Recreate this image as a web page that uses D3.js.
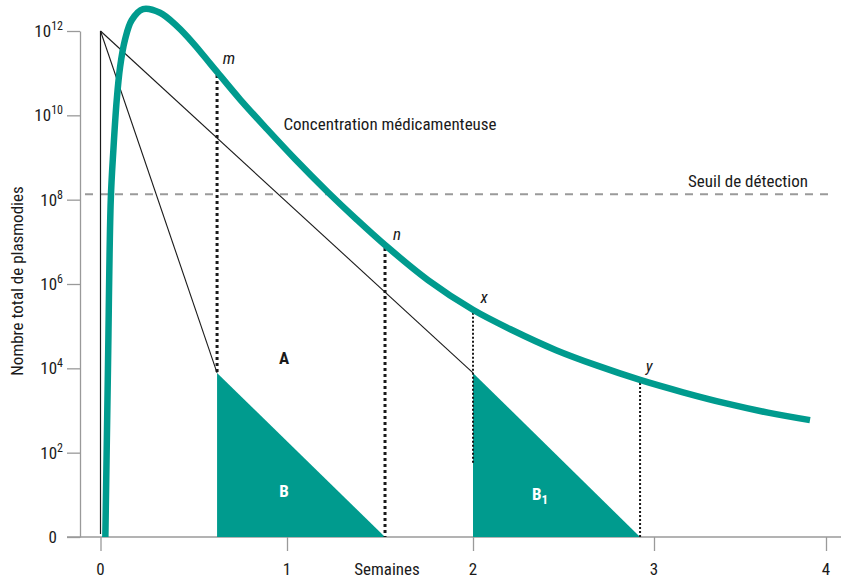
<!DOCTYPE html>
<html>
<head>
<meta charset="utf-8">
<script src="https://cdn.jsdelivr.net/npm/d3@7"></script>
<style>
  body { margin: 0; background: #fff; }
  svg { display: block; }
  text { font-family: "Liberation Sans Narrow", "Arial Narrow", "Roboto Condensed", sans-serif; fill: #1a1a1a; }
</style>
</head>
<body>
<svg id="chart" width="841" height="581"></svg>
<script>
// ---- data ----
const xTicks = [0, 1, 2, 3, 4];
const yTickExps = [0, 2, 4, 6, 8, 10, 12];          // 10^exp ; 10^0 shown as "0"
const curveWeeks  = [0.026, 0.040, 0.055, 0.069, 0.087, 0.105, 0.131, 0.167, 0.228, 0.319, 0.410, 0.501, 0.587, 0.625, 0.748, 0.893, 1.043, 1.220, 1.371, 1.527, 1.758, 2.0, 2.221, 2.459, 2.691, 2.923, 3.169, 3.419, 3.663, 3.907];
const curveValues = [1, 1.0e4, 9.8e7, 1.5e9, 2.3e10, 1.4e11, 6.1e11, 1.8e12, 3.3e12, 2.7e12, 1.3e12, 4.9e11, 1.7e11, 1.07e11, 2.4e10, 4.7e9, 9.2e8, 1.5e8, 3.5e7, 8.4e6, 1.24e6, 2.45e5, 7.9e4, 2.7e4, 1.14e4, 5.3e3, 2.7e3, 1.47e3, 890, 590];
const startValue = 1e12;
const threshold = 1.35e8;
const lineEnds = [ {week: 0.625, value: 7.8e3}, {week: 2.0, value: 7.8e3} ];
const triangles = [
  {name: "B",  top: 7.8e3, from: 0.625, to: 1.527},
  {name: "B1", top: 7.8e3, from: 2.0,   to: 2.923}
];
const dotted = [
  {week: 0.625, top: 1.07e11, bottom: 7.8e3, heavy: true},
  {week: 1.527, top: 8.4e6,   bottom: 1,     heavy: true},
  {week: 2.0,   top: 2.45e5,  bottom: 56,    heavy: false},
  {week: 2.923, top: 5.3e3,   bottom: 1,     heavy: false}
];
const pointLabels = [
  {t: "m", week: 0.625, value: 1.07e11},
  {t: "n", week: 1.527, value: 8.4e6},
  {t: "x", week: 2.0,   value: 2.45e5},
  {t: "y", week: 2.923, value: 5.3e3}
];

const teal = "#009b8e";
const svg = d3.select("#chart");

const x = d3.scaleLinear().domain(xTicks).range([100.5, 287, 473, 654, 826]);
const y = d3.scaleLog().domain([1, 1e12]).range([537, 31]);

// axes
const yAxis = d3.axisLeft(y).tickValues(yTickExps.map(e => Math.pow(10, e))).tickSize(13).tickSizeOuter(0).tickFormat("");
const gy = svg.append("g").attr("transform", "translate(80,0)").call(yAxis);
gy.selectAll("path,line").attr("stroke", "#9a9a9a").attr("stroke-width", 1.3);

svg.append("line").attr("x1", 67).attr("x2", 841).attr("y1", y(1)).attr("y2", y(1))
  .attr("stroke", "#9a9a9a").attr("stroke-width", 1.3);
const xAxis = d3.axisBottom(x).tickValues(xTicks).tickSize(14).tickSizeOuter(0).tickFormat("");
const gx = svg.append("g").attr("transform", `translate(0,${y(1)})`).call(xAxis);
gx.select(".domain").remove();
gx.selectAll("line").attr("stroke", "#9a9a9a").attr("stroke-width", 1.3);

// y tick labels
yTickExps.forEach(e => {
  const t = svg.append("text").attr("x", 63).attr("y", y(Math.pow(10, e)) + 6)
    .attr("text-anchor", "end").attr("font-size", 17);
  if (e === 0) { t.attr("x", 57).text("0"); }
  else {
    t.append("tspan").text("10");
    t.append("tspan").attr("dy", -7).attr("font-size", 12).text(e);
  }
});
// x tick labels
xTicks.forEach(v => {
  svg.append("text").attr("x", x(v)).attr("y", 575).attr("text-anchor", "middle")
    .attr("font-size", 17).text(v);
});
svg.append("text").attr("x", 387).attr("y", 575).attr("text-anchor", "middle")
  .attr("font-size", 17).text("Semaines");
svg.append("text").attr("transform", "translate(23,281) rotate(-90)")
  .attr("text-anchor", "middle").attr("font-size", 17).text("Nombre total de plasmodies");

// threshold
svg.append("line").attr("x1", 85).attr("x2", 832).attr("y1", y(threshold)).attr("y2", y(threshold))
  .attr("stroke", "#9a9a9a").attr("stroke-width", 2).attr("stroke-dasharray", "8,7");
svg.append("text").attr("x", 808).attr("y", y(threshold) - 7).attr("text-anchor", "end")
  .attr("font-size", 17).text("Seuil de détection");

// triangles
triangles.forEach(tr => {
  const pts = [[x(tr.from), y(tr.top)], [x(tr.from), y(1)], [x(tr.to), y(1)]];
  svg.append("path").attr("d", "M" + pts.join("L") + "Z").attr("fill", teal);
});

// black thin lines from start
svg.append("line").attr("x1", x(0)).attr("y1", y(startValue)).attr("x2", x(0)).attr("y2", y(1) - 3)
  .attr("stroke", "#1a1a1a").attr("stroke-width", 1.2);
lineEnds.forEach(p => {
  svg.append("line").attr("x1", x(0)).attr("y1", y(startValue)).attr("x2", x(p.week)).attr("y2", y(p.value))
    .attr("stroke", "#1a1a1a").attr("stroke-width", 1.1);
});

// dotted verticals
dotted.forEach(d => {
  svg.append("line").attr("x1", x(d.week)).attr("x2", x(d.week))
    .attr("y1", y(d.top) + 3).attr("y2", y(d.bottom))
    .attr("stroke", "#1a1a1a").attr("stroke-width", d.heavy ? 3 : 2)
    .attr("stroke-dasharray", d.heavy ? "3,3" : "2,2");
});

// drug concentration curve
const curveData = curveWeeks.map((w, i) => [w, curveValues[i]]);
const line = d3.line().x(d => x(d[0])).y(d => y(d[1])).curve(d3.curveCatmullRom.alpha(0.5));
svg.append("path").datum(curveData).attr("d", line)
  .attr("fill", "none").attr("stroke", teal).attr("stroke-width", 6.5);

svg.append("text").attr("x", 390).attr("y", 130).attr("text-anchor", "middle")
  .attr("font-size", 17).text("Concentration médicamenteuse");

// point labels
const offs = {m: [12, -8], n: [12, -5], x: [11, -7], y: [9, -8]};
pointLabels.forEach(p => {
  svg.append("text").attr("x", x(p.week) + offs[p.t][0]).attr("y", y(p.value) + offs[p.t][1])
    .attr("font-size", 17).attr("font-style", "italic").attr("text-anchor", "middle").text(p.t);
});

// region labels
svg.append("text").attr("x", 284).attr("y", 364).attr("text-anchor", "middle")
  .attr("font-size", 17).attr("font-weight", "bold").text("A");
svg.append("text").attr("x", 284).attr("y", 497).attr("text-anchor", "middle")
  .attr("font-size", 17).attr("font-weight", "bold").style("fill", "#fff").text("B");
const b1 = svg.append("text").attr("x", 532).attr("y", 500)
  .attr("font-size", 17).attr("font-weight", "bold").style("fill", "#fff");
b1.append("tspan").text("B");
b1.append("tspan").attr("dy", 4).attr("font-size", 13).text("1");
</script>
</body>
</html>
